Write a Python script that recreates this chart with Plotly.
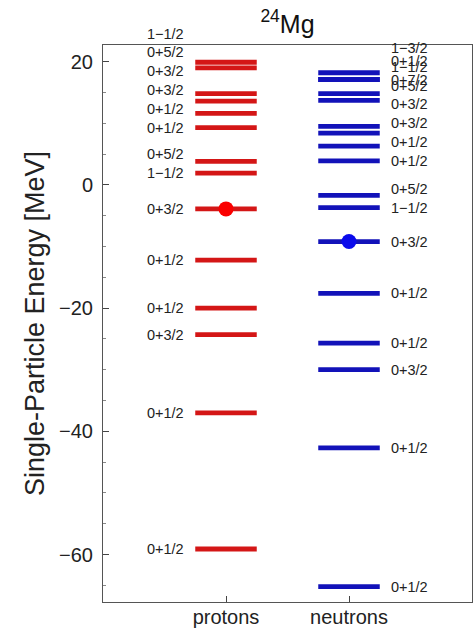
import plotly.graph_objects as go

# ---- data ----
species = ["protons", "neutrons"]

proton_energies = [19.9, 19.0, 14.8, 13.6, 11.6, 9.3, 3.8, 1.9, -3.9,
                   -12.2, -20.0, -24.3, -37.0, -59.1]
proton_labels = ["1−1/2", "0+5/2", "0+3/2", "0+3/2", "0+1/2", "0+1/2", "0+5/2",
                 "1−1/2", "0+3/2", "0+1/2", "0+1/2", "0+3/2", "0+1/2", "0+1/2"]

neutron_energies = [18.2, 17.1, 17.1, 14.8, 13.7, 9.5, 8.4, 6.3, 3.9,
                    -1.7, -3.7, -9.2, -17.6, -25.7, -30.0, -42.7, -65.2]
neutron_labels = ["0+1/2", "1−3/2", "0+7/2", "1−1/2", "0+5/2", "0+3/2", "0+3/2",
                  "0+1/2", "0+1/2", "0+5/2", "1−1/2", "0+3/2", "0+1/2", "0+1/2",
                  "0+3/2", "0+1/2", "0+1/2"]

fermi_energies = [-3.9, -9.2]

y_ticks = [-60, -40, -20, 0, 20]

# ---- styling ----
Y_RANGE = [-67.7, 22.7]
LINE_COLORS = ["rgb(212,22,22)", "rgb(18,18,185)"]
DOT_COLORS = ["rgb(250,0,0)", "rgb(10,10,235)"]
HALF_WIDTH = 0.25
FONT = "Liberation Sans, Arial, Helvetica, sans-serif"


def spread_labels(energies, gap=3.05, ceiling=25.0):
    """Push labels upward so they do not overlap; labels that would
    overflow the ceiling are laid out again in a second chain."""
    order = sorted(range(len(energies)), key=lambda i: energies[i])
    pos = [None] * len(energies)
    remaining = order
    while remaining:
        last = None
        overflow = []
        for i in remaining:
            y = energies[i] if last is None else max(energies[i], last + gap)
            if y > ceiling and last is not None:
                overflow.append(i)
                continue
            pos[i] = y
            last = y
        remaining = overflow
    return pos


def to_paper(v):
    return (v - Y_RANGE[0]) / (Y_RANGE[1] - Y_RANGE[0])


fig = go.Figure()
annotations = []

all_energies = [proton_energies, neutron_energies]
all_labels = [proton_labels, neutron_labels]

for k, name in enumerate(species):
    c = k + 1
    xs, ys = [], []
    for e in all_energies[k]:
        xs += [c - HALF_WIDTH, c + HALF_WIDTH, None]
        ys += [e, e, None]
    fig.add_trace(go.Scatter(x=xs, y=ys, mode="lines",
                             line=dict(color=LINE_COLORS[k], width=4.8),
                             showlegend=False, hoverinfo="skip"))
    label_pos = spread_labels(all_energies[k])
    for lab, ly in zip(all_labels[k], label_pos):
        left = (k == 0)
        annotations.append(dict(
            x=c - HALF_WIDTH if left else c + HALF_WIDTH, xref="x",
            y=to_paper(ly), yref="paper",
            text=lab, showarrow=False,
            xanchor="right" if left else "left", yanchor="middle",
            xshift=-9 if left else 9,
            font=dict(size=14.5, color="#222", family=FONT)))

fig.add_trace(go.Scatter(x=[1, 2], y=fermi_energies, mode="markers",
                         marker=dict(color=DOT_COLORS, size=15, line=dict(width=0)),
                         showlegend=False, hoverinfo="skip"))

fig.update_layout(
    width=475, height=630,
    margin=dict(l=103, r=3, t=45, b=28),
    paper_bgcolor="white", plot_bgcolor="white",
    annotations=annotations,
    title=dict(text="<sup>24</sup>Mg", x=0.5, xref="paper", xanchor="center",
               y=1 - 24 / 630, yref="container", yanchor="middle",
               font=dict(size=25, color="#111", family=FONT)),
    font=dict(family=FONT, color="#222"),
)

fig.update_xaxes(range=[0, 3], tickvals=[1, 2], ticktext=species,
                 ticks="inside", ticklen=6, tickcolor="#444",
                 showline=True, linecolor="#555", linewidth=1, mirror=True,
                 showgrid=False, zeroline=False, automargin=False,
                 ticklabelstandoff=-3,
                 tickfont=dict(size=20, color="#222", family=FONT))

fig.update_yaxes(range=Y_RANGE, tickvals=y_ticks,
                 ticktext=[str(v).replace("-", "−") for v in y_ticks],
                 ticks="inside", ticklen=6, tickcolor="#444",
                 minor=dict(dtick=5, tick0=0, ticks="inside", ticklen=3, tickcolor="#888"),
                 showline=True, linecolor="#555", linewidth=1, mirror=True,
                 showgrid=False, zeroline=False, automargin=False,
                 ticklabelstandoff=5,
                 tickfont=dict(size=20, color="#222", family=FONT),
                 title=dict(text="Single-Particle Energy [MeV]", standoff=6,
                            font=dict(size=27, color="#222", family=FONT)))

fig.write_html("out.html",
               config={"displayModeBar": False},
               post_script="document.body.style.margin='0';"
                           "document.body.style.overflow='hidden';")
